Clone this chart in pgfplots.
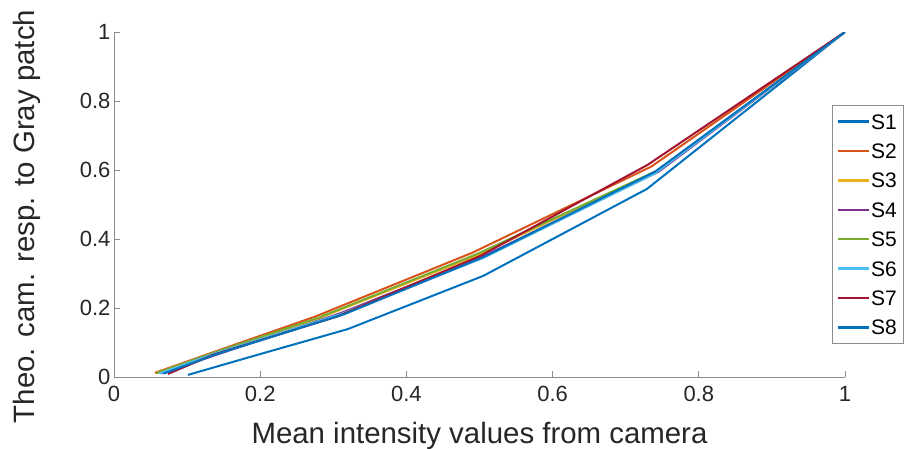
\documentclass[border=0pt]{standalone}
\usepackage{fontspec}
\setmainfont{Liberation Sans}
\usepackage{pgfplots}
\pgfplotsset{compat=1.18}
\definecolor{mlblue}{HTML}{0072BD}
\definecolor{mlorange}{HTML}{D95319}
\definecolor{mlyellow}{HTML}{EDB120}
\definecolor{mlpurple}{HTML}{7E2F8E}
\definecolor{mlgreen}{HTML}{77AC30}
\definecolor{mlcyan}{HTML}{4DBEEE}
\definecolor{mlred}{HTML}{A2142F}
\definecolor{axgray}{HTML}{8C8C8C}
\definecolor{txtgray}{HTML}{262626}
\begin{document}
\begin{tikzpicture}
\begin{axis}[
  name=ax,
  scale only axis,
  width=731pt, height=345pt,
  xmin=0, xmax=1, ymin=0, ymax=1,
  axis x line*=bottom, axis y line*=left,
  axis line style={draw=axgray, line width=0.8pt},
  tick align=inside,
  major tick length=6pt,
  tick style={draw=axgray, line width=0.8pt},
  xtick={0,0.2,0.4,0.6,0.8,1},
  ytick={0,0.2,0.4,0.6,0.8,1},
  /pgf/number format/assume math mode=true,
  ticklabel style={font=\fontsize{22}{26}\selectfont, text=txtgray},
  xticklabel style={yshift=-6pt},
  xlabel={Mean intensity values from camera},
  ylabel={Theo. cam. resp. to Gray patch},
  every axis x label/.style={at={(axis description cs:0.5,0)}, anchor=base, yshift=-66pt,
    font=\fontsize{29.4}{35}\selectfont, text=txtgray},
  every axis y label/.style={at={(axis description cs:0,0.465)}, xshift=-79pt, rotate=90, anchor=base,
    font=\fontsize{29.4}{35}\selectfont, text=txtgray},
  legend style={at={(rel axis cs:0.982,0.788)}, anchor=north west, draw=axgray, line width=0.8pt,
    fill=white, inner xsep=6pt, inner ysep=5.5pt, row sep=8.4pt,
    font=\fontsize{21}{25}\selectfont,
    nodes={inner sep=0pt, text height=18pt, text depth=3pt},
    /tikz/every odd column/.append style={column sep=2pt}},
  legend cell align=left,
  legend image code/.code={\fill[#1, draw=none] (0pt,-1.2pt) rectangle (31pt,1.2pt);},
  every axis plot/.append style={line width=2pt, no markers},
]
\addplot[color=mlblue] coordinates {(0.101,0.006) (0.186,0.058) (0.320,0.139) (0.505,0.293) (0.729,0.545) (1,1)};
\addlegendentry{S1}
\addplot[color=mlorange] coordinates {(0.056,0.012) (0.140,0.075) (0.275,0.175) (0.490,0.360) (0.735,0.610) (1,1)};
\addlegendentry{S2}
\addplot[color=mlyellow] coordinates {(0.058,0.011) (0.140,0.072) (0.280,0.170) (0.500,0.355) (0.745,0.600) (1,1)};
\addlegendentry{S3}
\addplot[color=mlpurple] coordinates {(0.065,0.010) (0.145,0.068) (0.310,0.185) (0.505,0.350) (0.745,0.595) (1,1)};
\addlegendentry{S4}
\addplot[color=mlgreen] coordinates {(0.058,0.011) (0.140,0.073) (0.280,0.172) (0.495,0.355) (0.745,0.600) (1,1)};
\addlegendentry{S5}
\addplot[color=mlcyan] coordinates {(0.062,0.010) (0.140,0.070) (0.310,0.182) (0.505,0.345) (0.740,0.590) (1,1)};
\addlegendentry{S6}
\addplot[color=mlred] coordinates {(0.074,0.009) (0.135,0.064) (0.305,0.175) (0.500,0.350) (0.730,0.615) (1,1)};
\addlegendentry{S7}
\addplot[color=mlblue] coordinates {(0.068,0.010) (0.140,0.066) (0.315,0.182) (0.505,0.347) (0.740,0.595) (1,1)};
\addlegendentry{S8}
\end{axis}
\pgfresetboundingbox
\path[use as bounding box] ([xshift=-114pt,yshift=-71pt]ax.south west) rectangle ([xshift=792pt,yshift=377pt]ax.south west);
\end{tikzpicture}
\end{document}
